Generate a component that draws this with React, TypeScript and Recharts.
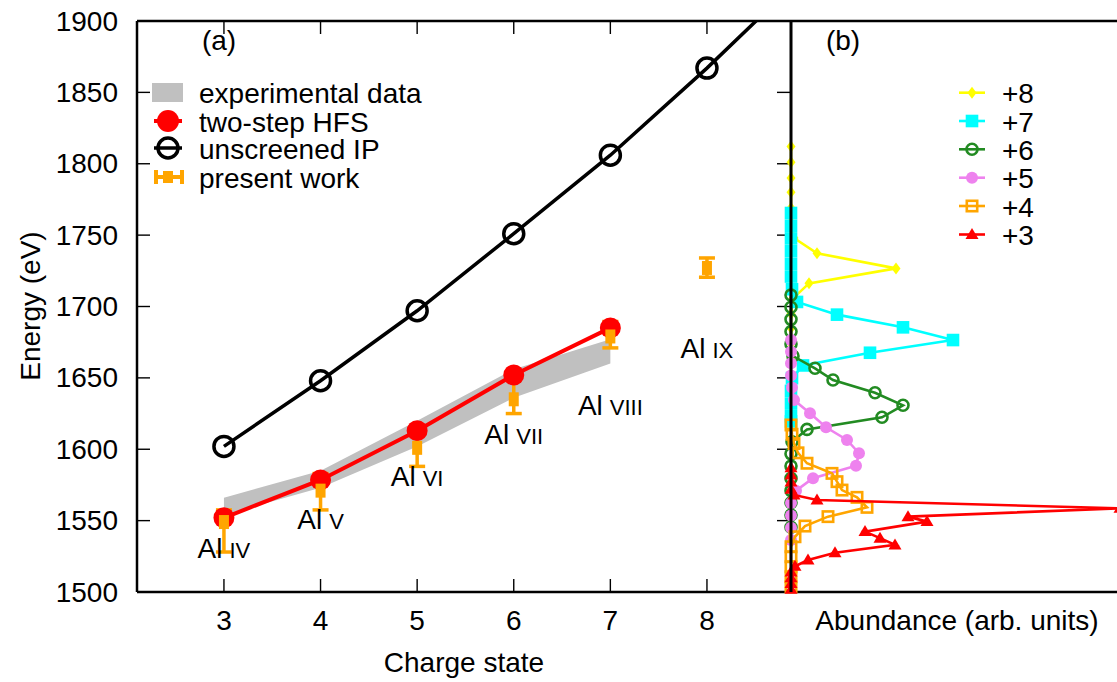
import React from 'react';
import {
  ComposedChart,
  Scatter,
  Area,
  XAxis,
  YAxis,
  ErrorBar,
  ReferenceLine,
  Legend,
  Label,
} from 'recharts';

const FONT = '"Liberation Sans", Arial, Helvetica, sans-serif';
const FS = 28;

// ---------------- panel (a) data ----------------
const energyTicks = [1500, 1550, 1600, 1650, 1700, 1750, 1800, 1850, 1900];
const chargeTicks = [3, 4, 5, 6, 7, 8];

const expCharge = [3, 4, 5, 6, 7];
const expLow = [1554, 1573, 1602, 1636, 1660];
const expHigh = [1566, 1585, 1620, 1656, 1677];

const hfsCharge = [3, 4, 5, 6, 7];
const hfsEnergy = [1552, 1578.5, 1613, 1652, 1685];

const ipCharge = [3, 4, 5, 6, 7, 8, 9];
const ipEnergy = [1602, 1648, 1697, 1751, 1806, 1867, 1932];

const workCharge = [3, 4, 5, 6, 7, 8];
const workEnergy = [1549, 1571, 1601, 1635, 1679, 1727];
const workLow = [1528, 1557.5, 1588, 1625, 1671, 1720.5];
const workHigh = [1557.5, 1583, 1614.5, 1648.5, 1689.5, 1734];

const ionCharge = [3, 4, 5, 6, 7, 8];
const ionNumeral = ['IV', 'V', 'VI', 'VII', 'VIII', 'IX'];
const ionLabelEnergy = [1524, 1544, 1574, 1604, 1624, 1664];

const legendANames = ['experimental data', 'two-step HFS', 'unscreened IP', 'present work'];

// ---------------- panel (b) data ----------------
const q8Energy = [1812, 1801, 1790, 1780, 1769, 1759, 1748, 1737.3, 1726.7, 1716.2, 1705.7, 1695, 1685, 1674, 1664];
const q8Abund = [0, 0, 0, 0, 0, 0, 0.03, 0.26, 1.05, 0.18, 0.02, 0, 0, 0, 0];

const q7Energy = [1765.5, 1756.6, 1747.7, 1738.8, 1729.9, 1721, 1712.1, 1703.2, 1694.3, 1685.4, 1676.5, 1667.6, 1658.7, 1649.8, 1640.9, 1632, 1623.1, 1619.5];
const q7Abund = [0, 0, 0, 0, 0, 0, 0.01, 0.06, 0.46, 1.12, 1.62, 0.79, 0.12, 0.01, 0, 0, 0, 0];

const q6Energy = [1708, 1699.5, 1691, 1682.4, 1673.8, 1665.3, 1656.7, 1648.5, 1639.6, 1630.8, 1622.4, 1613.9, 1605.3, 1596.8, 1588.2, 1579.6, 1571, 1562.5, 1553.9, 1545.4];
const q6Abund = [0, 0, 0, 0, 0, 0.02, 0.24, 0.42, 0.84, 1.12, 0.91, 0.16, 0.01, 0, 0, 0, 0, 0, 0, 0];

const q5Energy = [1676.5, 1668.3, 1660.2, 1651.6, 1643.2, 1634.5, 1625.2, 1615.4, 1606.5, 1597.2, 1588.5, 1579.7, 1571, 1562.4, 1553.6, 1545, 1536.4];
const q5Abund = [0, 0, 0, 0, 0.01, 0.03, 0.19, 0.35, 0.56, 0.68, 0.65, 0.22, 0.05, 0, 0, 0, 0];

const q4Energy = [1617, 1610.5, 1604, 1597.5, 1590.2, 1583.1, 1577.3, 1571.4, 1566.3, 1559.3, 1552.8, 1546.2, 1538.7, 1531.7, 1524.7, 1517.7, 1510.7, 1503.7];
const q4Abund = [0, 0.01, 0.03, 0.07, 0.16, 0.41, 0.46, 0.51, 0.66, 0.76, 0.37, 0.14, 0.04, 0, 0, 0, 0, 0];

const q3Energy = [1587, 1582, 1577, 1572, 1568, 1564.4, 1558.6, 1552.8, 1549.3, 1542.3, 1537.7, 1533, 1527.5, 1522.4, 1518, 1514, 1510, 1506, 1502];
const q3Abund = [0, 0, 0, 0, 0.03, 0.26, 3.29, 1.17, 1.36, 0.74, 0.89, 1.04, 0.44, 0.17, 0.04, 0, 0, 0, 0];

const legendBNames = ['+8', '+7', '+6', '+5', '+4', '+3'];

// ---------------- layout / style constants ----------------
const PLOT_TOP = 21;
const PLOT_BOTTOM = 592;
const A_LEFT = 137;
const A_RIGHT = 791;
const TICK = 13;
const B_OFFSET = 771;

const C_YELLOW = '#ffff00';
const C_CYAN = '#00ffff';
const C_GREEN = '#228b22';
const C_VIOLET = '#ee82ee';
const C_ORANGE = '#ffa500';
const C_RED = '#ff0000';
const C_GRAY = '#c0c0c0';

// ---------------- tables built from arrays ----------------
const bandData = expCharge.map((x, i) => ({ x, range: [expLow[i], expHigh[i]] }));
const hfsData = hfsCharge.map((x, i) => ({ x, y: hfsEnergy[i] }));
const ipData = ipCharge.map((x, i) => ({ x, y: ipEnergy[i] }));
const workData = workCharge.map((x, i) => ({
  x,
  y: workEnergy[i],
  err: [workEnergy[i] - workLow[i], workHigh[i] - workEnergy[i]],
}));
const ionData = ionCharge.map((x, i) => ({ x, y: ionLabelEnergy[i], n: ionNumeral[i] }));

const toB = (es: number[], as: number[]) => es.map((e, i) => ({ e, a: as[i] }));
const q8Data = toB(q8Energy, q8Abund);
const q7Data = toB(q7Energy, q7Abund);
const q6Data = toB(q6Energy, q6Abund);
const q5Data = toB(q5Energy, q5Abund);
const q4Data = toB(q4Energy, q4Abund);
const q3Data = toB(q3Energy, q3Abund);
const dividerData = [
  { e: 1500, a: 0 },
  { e: 1900, a: 0 },
];

// ---------------- marker drawing ----------------
const mDiamond = (cx: number, cy: number, c: string) => (
  <polygon points={`${cx},${cy - 6} ${cx + 4.5},${cy} ${cx},${cy + 6} ${cx - 4.5},${cy}`} fill={c} />
);
const mSquare = (cx: number, cy: number, c: string) => (
  <rect x={cx - 6.3} y={cy - 6.3} width={12.6} height={12.6} fill={c} />
);
const mOpenCircle = (cx: number, cy: number, c: string) => (
  <circle cx={cx} cy={cy} r={5.5} fill="none" stroke={c} strokeWidth={2.6} />
);
const mDot = (cx: number, cy: number, c: string) => <circle cx={cx} cy={cy} r={6} fill={c} />;
const mOpenSquare = (cx: number, cy: number, c: string) => (
  <rect x={cx - 5.2} y={cy - 5.2} width={10.4} height={10.4} fill="none" stroke={c} strokeWidth={2.6} />
);
const mTriangle = (cx: number, cy: number, c: string) => (
  <polygon points={`${cx},${cy - 6.5} ${cx + 6.5},${cy + 4.5} ${cx - 6.5},${cy + 4.5}`} fill={c} />
);

const shapeOf = (fn: (cx: number, cy: number, c: string) => React.ReactElement, c: string) => (p: any) =>
  fn(p.cx, p.cy, c);

const seriesB = [
  { data: q8Data, color: C_YELLOW, marker: mDiamond },
  { data: q7Data, color: C_CYAN, marker: mSquare },
  { data: q6Data, color: C_GREEN, marker: mOpenCircle },
  { data: q5Data, color: C_VIOLET, marker: mDot },
  { data: q4Data, color: C_ORANGE, marker: mOpenSquare },
  { data: q3Data, color: C_RED, marker: mTriangle },
];

// ---------------- ticks ----------------
const YTickA = (props: any) => {
  const { y, payload } = props;
  return (
    <g>
      <line x1={A_LEFT} x2={A_LEFT + TICK} y1={y} y2={y} stroke="#000" strokeWidth={1.4} />
      <line x1={A_RIGHT - TICK - 1} x2={A_RIGHT} y1={y} y2={y} stroke="#000" strokeWidth={1.4} />
      <text
        x={A_LEFT - 19}
        y={y}
        textAnchor="end"
        dominantBaseline="central"
        fontSize={FS}
        fontFamily={FONT}
        fill="#000"
      >
        {payload.value}
      </text>
    </g>
  );
};

const XTickA = (props: any) => {
  const { x, payload } = props;
  return (
    <g>
      <line x1={x} x2={x} y1={PLOT_BOTTOM} y2={PLOT_BOTTOM - TICK} stroke="#000" strokeWidth={1.4} />
      <line x1={x} x2={x} y1={PLOT_TOP} y2={PLOT_TOP + TICK} stroke="#000" strokeWidth={1.4} />
      <text
        x={x}
        y={620}
        textAnchor="middle"
        dominantBaseline="central"
        fontSize={FS}
        fontFamily={FONT}
        fill="#000"
      >
        {payload.value}
      </text>
    </g>
  );
};

const txt = (x: number, y: number, s: string, anchor: 'start' | 'middle' | 'end' = 'start') => (
  <text x={x} y={y} textAnchor={anchor} dominantBaseline="central" fontSize={FS} fontFamily={FONT} fill="#000">
    {s}
  </text>
);

// ---------------- legends ----------------
const legendARowY = [92.5, 121, 148, 177];
const LegendA = () => (
  <svg width={470} height={210} style={{ display: 'block', overflow: 'visible' }}>
    {txt(219, 40, '(a)', 'middle')}
    <rect x={152} y={legendARowY[0] - 9.5} width={31} height={19} fill={C_GRAY} />
    <line x1={154} x2={182} y1={legendARowY[1]} y2={legendARowY[1]} stroke={C_RED} strokeWidth={4} />
    <circle cx={168} cy={legendARowY[1]} r={11} fill={C_RED} />
    <line x1={154} x2={182} y1={legendARowY[2]} y2={legendARowY[2]} stroke="#000" strokeWidth={3.5} />
    <circle cx={168} cy={legendARowY[2]} r={10} fill="none" stroke="#000" strokeWidth={3.5} />
    <line x1={156} x2={182} y1={legendARowY[3]} y2={legendARowY[3]} stroke={C_ORANGE} strokeWidth={4} />
    <line x1={156} x2={156} y1={legendARowY[3] - 7} y2={legendARowY[3] + 7} stroke={C_ORANGE} strokeWidth={4} />
    <line x1={182} x2={182} y1={legendARowY[3] - 7} y2={legendARowY[3] + 7} stroke={C_ORANGE} strokeWidth={4} />
    <rect x={163} y={legendARowY[3] - 6} width={10} height={12} fill={C_ORANGE} />
    {legendANames.map((n, i) => (
      <g key={n}>{txt(199, legendARowY[i] + 1, n)}</g>
    ))}
  </svg>
);

const legendBRowY = [92.7, 121, 149.3, 177.7, 206, 234.5];
const LegendB = () => (
  <svg width={372} height={260} style={{ display: 'block', overflow: 'visible' }}>
    <g transform={`translate(${-B_OFFSET},0)`}>
      {txt(843, 40, '(b)', 'middle')}
      {seriesB.map((s, i) => (
        <g key={i}>
          <line x1={959} x2={985} y1={legendBRowY[i]} y2={legendBRowY[i]} stroke={s.color} strokeWidth={2.6} />
          {s.marker(972, legendBRowY[i], s.color)}
          {txt(1002, legendBRowY[i] + 1, legendBNames[i])}
        </g>
      ))}
    </g>
  </svg>
);

// ---------------- app ----------------
export default function App() {
  return (
    <div
      style={{
        position: 'absolute',
        left: 0,
        top: 0,
        width: 1117,
        height: 682,
        overflow: 'hidden',
        background: '#fff',
      }}
    >
      <div style={{ position: 'absolute', left: 0, top: 0 }}>
        <ComposedChart width={800} height={682} margin={{ top: PLOT_TOP, right: 800 - A_RIGHT, bottom: 30, left: 37 }}>
          <XAxis
            type="number"
            dataKey="x"
            domain={[2.1, 8.87]}
            allowDataOverflow
            ticks={chargeTicks}
            interval={0}
            height={60}
            tickLine={false}
            tickSize={0}
            tickMargin={0}
            tick={XTickA}
            axisLine={{ stroke: '#000', strokeWidth: 2.5 }}
          >
            <Label
              content={() => (
                <text x={464} y={662} textAnchor="middle" dominantBaseline="central" fontSize={FS} fontFamily={FONT} fill="#000">
                  Charge state
                </text>
              )}
            />
          </XAxis>
          <YAxis
            type="number"
            dataKey="y"
            domain={[1500, 1900]}
            allowDataOverflow
            ticks={energyTicks}
            interval={0}
            width={100}
            tickLine={false}
            tickSize={0}
            tickMargin={0}
            tick={YTickA}
            axisLine={{ stroke: '#000', strokeWidth: 2.5 }}
          >
            <Label
              content={() => (
                <text
                  transform="translate(30,306) rotate(-90)"
                  textAnchor="middle"
                  dominantBaseline="central"
                  fontSize={FS}
                  fontFamily={FONT}
                  fill="#000"
                >
                  Energy (eV)
                </text>
              )}
            />
          </YAxis>
          <Area
            data={bandData}
            dataKey="range"
            type="linear"
            stroke="none"
            fill={C_GRAY}
            fillOpacity={1}
            dot={false}
            activeDot={false}
            isAnimationActive={false}
          />
          <Scatter
            data={hfsData}
            dataKey="y"
            line={{ stroke: C_RED, strokeWidth: 4 }}
            lineType="joint"
            shape={(p: any) => <circle cx={p.cx} cy={p.cy} r={10.5} fill={C_RED} />}
            isAnimationActive={false}
          />
          <Scatter
            data={ipData}
            dataKey="y"
            line={{ stroke: '#000', strokeWidth: 3.5 }}
            lineType="joint"
            shape={(p: any) => <circle cx={p.cx} cy={p.cy} r={10} fill="none" stroke="#000" strokeWidth={3.5} />}
            isAnimationActive={false}
          />
          <Scatter
            data={workData}
            dataKey="y"
            shape={(p: any) => <rect x={p.cx - 5} y={p.cy - 7} width={10} height={14} fill={C_ORANGE} />}
            isAnimationActive={false}
          >
            <ErrorBar dataKey="err" direction="y" width={8} stroke={C_ORANGE} strokeWidth={3.5} isAnimationActive={false} />
          </Scatter>
          <Scatter
            data={ionData}
            dataKey="y"
            shape={(p: any) => (
              <text x={p.cx} y={p.cy} textAnchor="middle" fontSize={FS} fontFamily={FONT} fill="#000">
                Al
                <tspan dx={7} fontSize={22}>
                  {p.payload.n}
                </tspan>
              </text>
            )}
            isAnimationActive={false}
          />
          <ReferenceLine y={1900} stroke="#000" strokeWidth={2.5} ifOverflow="visible" />
          <Legend
            layout="vertical"
            align="center"
            verticalAlign="middle"
            wrapperStyle={{ left: 0, top: 0, width: 470, height: 210, pointerEvents: 'none' }}
            content={() => <LegendA />}
          />
        </ComposedChart>
      </div>

      <div style={{ position: 'absolute', left: B_OFFSET, top: 0 }}>
        <ComposedChart width={372} height={682} margin={{ top: PLOT_TOP, right: 20, bottom: 30, left: 20 }}>
          <XAxis
            type="number"
            dataKey="a"
            domain={[0, 3.32]}
            height={60}
            tick={false}
            tickLine={false}
            axisLine={{ stroke: '#000', strokeWidth: 2.5 }}
          >
            <Label
              content={() => (
                <text x={957 - B_OFFSET} y={620} textAnchor="middle" dominantBaseline="central" fontSize={FS} fontFamily={FONT} fill="#000">
                  Abundance (arb. units)
                </text>
              )}
            />
          </XAxis>
          <YAxis type="number" dataKey="e" domain={[1500, 1900]} hide width={0} />
          {seriesB.map((s, i) => (
            <Scatter
              key={i}
              data={s.data}
              dataKey="e"
              line={{ stroke: s.color, strokeWidth: 2.6 }}
              lineType="joint"
              shape={shapeOf(s.marker, s.color)}
              isAnimationActive={false}
            />
          ))}
          <Scatter
            data={dividerData}
            dataKey="e"
            line={{ stroke: '#000', strokeWidth: 3 }}
            lineType="joint"
            shape={() => <g />}
            isAnimationActive={false}
          />
          <ReferenceLine y={1900} stroke="#000" strokeWidth={2.5} ifOverflow="visible" />
          <Legend
            layout="vertical"
            align="center"
            verticalAlign="middle"
            wrapperStyle={{ left: 0, top: 0, width: 372, height: 260, pointerEvents: 'none' }}
            content={() => <LegendB />}
          />
        </ComposedChart>
      </div>
    </div>
  );
}
